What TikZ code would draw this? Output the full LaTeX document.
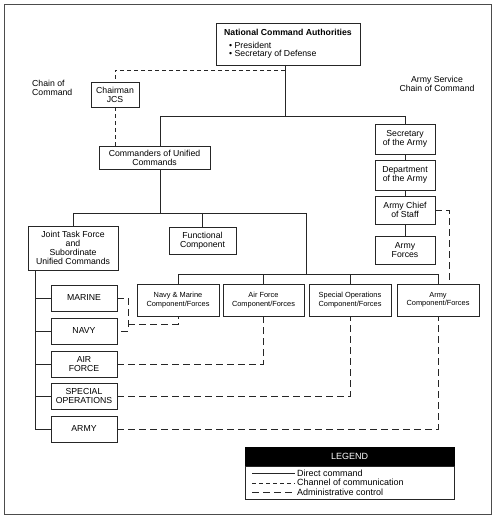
\documentclass[tikz,border=0pt]{standalone}
\usepackage{fontspec}
\setmainfont{Liberation Sans}
\usetikzlibrary{calc}
\newcommand\fsA{\fontsize{8.7}{9}\selectfont}
\newcommand\fsS{\fontsize{7.4}{8.2}\selectfont}
\newcommand\fsL{\fontsize{9}{9.5}\selectfont}
\begin{document}
\begin{tikzpicture}[x=1pt,y=-1pt,
  box/.style={draw=black!85,line width=0.75pt,fill=white,inner sep=1pt,align=center,font=\fsA},
  sbox/.style={box,font=\fsS},
  direct/.style={draw=black!85,line width=0.75pt},
  chan/.style={draw=black!85,line width=0.75pt,dash pattern=on 4pt off 3pt},
  admin/.style={draw=black!85,line width=0.75pt,dash pattern=on 7pt off 4pt},
  lbl/.style={inner sep=0pt,font=\fsA,align=center}]
\useasboundingbox (0,0) rectangle (495,518);
\draw[gray!60!black,line width=0.9pt] (4,4) rectangle (491,514);

% top
\node[box,minimum width=144,minimum height=42] (nca) at (288,44) {};
\node[lbl,font=\fsA\bfseries] (ncat) at (288,32) {National Command Authorities};
\node[lbl,anchor=west] (ncab1) at (229,45.5) {\textbullet\ President};
\node[lbl,anchor=west] (ncab2) at (229,54.5) {\textbullet\ Secretary of Defense};

\node[box,minimum width=48,minimum height=25] (chair) at (115,94.5) {Chairman\\JCS};
\node[lbl,align=left,anchor=west] (coc) at (32,87.5) {Chain of\\Command};
\node[lbl] (asc) at (437,84) {Army Service\\Chain of Command};

\node[box,minimum width=111,minimum height=23] (cuc) at (154.5,157.5) {Commanders of Unified\\Commands};

\node[box,minimum width=60,minimum height=30] (secarmy) at (405,139) {Secretary\\of the Army};
\node[box,minimum width=60,minimum height=30] (dept) at (405,175) {Department\\of the Army};
\node[box,minimum width=60,minimum height=28] (chief) at (405,210) {Army Chief\\of Staff};
\node[box,minimum width=60,minimum height=28] (aforces) at (405,250) {Army\\Forces};

\node[box,minimum width=90,minimum height=44] (jtf) at (73,248) {Joint Task Force\\and\\Subordinate\\Unified Commands};
\node[box,minimum width=67,minimum height=27] (func) at (202.5,240.5) {Functional\\Component};

\node[sbox,minimum width=82,minimum height=32] (nmc) at (178,300) {Navy \& Marine\\Component/Forces};
\node[sbox,minimum width=81,minimum height=32] (afc) at (263.5,300) {Air Force\\Component/Forces};
\node[sbox,minimum width=82,minimum height=32] (soc) at (350,300) {Special Operations\\Component/Forces};
\node[sbox,minimum width=82,minimum height=32] (arc) at (438,300) {Army\\Component/Forces};

\node[box,minimum width=66,minimum height=26] (marine) at (84,298) {MARINE};
\node[box,minimum width=66,minimum height=26] (navy) at (84,331) {NAVY};
\node[box,minimum width=66,minimum height=26] (air) at (84,364) {AIR\\FORCE};
\node[box,minimum width=66,minimum height=26] (spec) at (84,396) {SPECIAL\\OPERATIONS};
\node[box,minimum width=66,minimum height=26] (army) at (84,429) {ARMY};

% coordinates
\coordinate (n1) at (285,65);
\coordinate (n2) at (285,70);
\coordinate (n3) at (285,116);
\coordinate (b1l) at (160,116);
\coordinate (b1r) at (405,116);
\coordinate (c1) at (160,169);
\coordinate (c2) at (160,213);
\coordinate (b2l) at (73,213);
\coordinate (b2r) at (306,213);
\coordinate (b3c) at (306,274);
\coordinate (b3l) at (178,274);
\coordinate (b3r) at (438,274);
\coordinate (t1) at (35,270);
\coordinate (t2) at (35,429);
\coordinate (m1) at (128,298);
\coordinate (m2) at (128,331);
\coordinate (m3) at (128,324);
\coordinate (k1) at (449,210);
\coordinate (k2) at (449,284);

% direct command
\draw[direct] (n1) -- (n3);
\draw[direct] (b1l) -- (b1r);
\draw[direct] (b1l) -- (b1l |- cuc.north);
\draw[direct] (b1r) -- (secarmy.north);
\draw[direct] (secarmy) -- (dept);
\draw[direct] (dept) -- (chief);
\draw[direct] (chief) -- (aforces);
\draw[direct] (c1) -- (c2);
\draw[direct] (b2l) -- (b2r);
\draw[direct] (b2l) -- (jtf.north);
\draw[direct] (b2l -| func.north) -- (func.north);
\draw[direct] (b2r) -- (b3c);
\draw[direct] (b3l) -- (b3r);
\draw[direct] (b3l) -- (nmc.north);
\draw[direct] (b3l -| afc.north) -- (afc.north);
\draw[direct] (b3l -| soc.north) -- (soc.north);
\draw[direct] (b3r) -- (arc.north);
\draw[direct] (t1) -- (t2);
\draw[direct] (t1 |- marine.west) -- (marine.west);
\draw[direct] (t1 |- navy.west) -- (navy.west);
\draw[direct] (t1 |- air.west) -- (air.west);
\draw[direct] (t1 |- spec.west) -- (spec.west);
\draw[direct] (t1 |- army.west) -- (army.west);

% channel of communication
\draw[chan] (n2) -| (chair.north);
\draw[chan] (chair.south) -- (chair.south |- cuc.north);

% administrative control
\draw[admin] (marine.east) -- (m1) -- (m2) -- (navy.east);
\draw[admin] (m3) -| (nmc.south);
\draw[admin] (air.east) -| (afc.south);
\draw[admin] (spec.east) -| (soc.south);
\draw[admin] (army.east) -| (arc.south);
\draw[admin] (chief.east) -- (k1) -- (k2);

% legend
\node[draw=black,fill=black,minimum width=209,minimum height=19,inner sep=0pt,text=white,font=\fsL] (lgh) at (349.5,456.5) {LEGEND};
\node[draw=black!85,line width=0.75pt,minimum width=209,minimum height=33,inner sep=0pt] (lgb) at (349.5,482.5) {};
\coordinate (l1a) at (252,473); \coordinate (l1b) at (295,473);
\coordinate (l2a) at (252,483); \coordinate (l2b) at (295,483);
\coordinate (l3a) at (252,492); \coordinate (l3b) at (295,492);
\draw[direct] (l1a) -- (l1b);
\draw[chan] (l2a) -- (l2b);
\draw[admin] (l3a) -- (l3b);
\node[lbl,font=\fsL,anchor=west] (lt1) at (297,473) {Direct command};
\node[lbl,font=\fsL,anchor=west] (lt2) at (297,482.5) {Channel of communication};
\node[lbl,font=\fsL,anchor=west] (lt3) at (297,492) {Administrative control};
\end{tikzpicture}
\end{document}
